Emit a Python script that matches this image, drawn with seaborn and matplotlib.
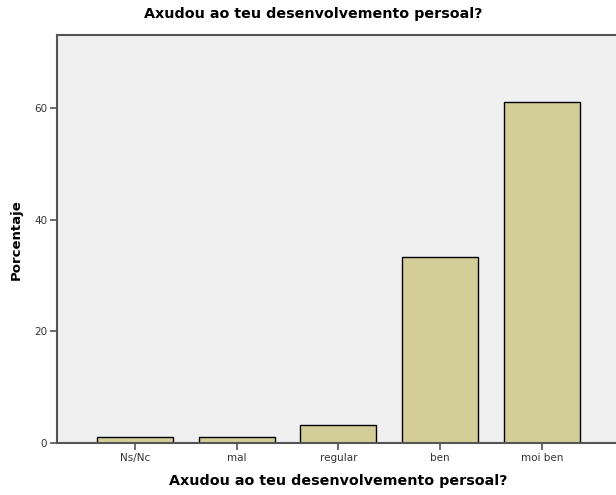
import pandas as pd
import matplotlib
matplotlib.use('Agg')
import matplotlib.pyplot as plt
import seaborn as sns

# Percentages (n = 90)
categorias = ['Ns/Nc', 'mal', 'regular', 'ben', 'moi ben']
porcentaje = [1.11, 1.11, 3.33, 33.33, 61.11]
y_ticks = [0, 20, 40, 60]

df = pd.DataFrame({'cat': categorias, 'pct': porcentaje})

sns.set_style('white')
plt.rcParams['font.family'] = ['DejaVu Sans']

fig = plt.figure(figsize=(6.16, 4.95), dpi=100)
ax = fig.add_axes([0.0925, 0.1044, 0.9135, 0.8249])
ax.set_facecolor('#F0F0F0')

sns.barplot(data=df, x='cat', y='pct', order=categorias, color='#D3CE97',
            edgecolor='black', linewidth=1.0, width=0.75, saturation=1, ax=ax)

ax.set_xlim(-0.767, 4.767)
ax.set_ylim(0, 73)
ax.set_yticks(y_ticks)
ax.set_yticklabels([str(t) for t in y_ticks])

for s in ['left', 'bottom', 'top', 'right']:
    ax.spines[s].set_color('#555555')
    ax.spines[s].set_linewidth(1.5)

ax.tick_params(axis='both', direction='out', length=5, width=1.2, color='#555555',
               labelsize=7.5, labelcolor='#333333', left=True, bottom=True, pad=2)

ax.set_xlabel('Axudou ao teu desenvolvemento persoal?', fontsize=10.3, fontweight='bold',
              labelpad=8, color='black')
ax.set_ylabel('Porcentaje', fontsize=9.5, fontweight='bold', labelpad=8, color='black')
fig.text(0.508, 0.972, 'Axudou ao teu desenvolvemento persoal?', ha='center', va='center',
         fontsize=10.3, fontweight='bold', color='black')

fig.savefig('out.png', dpi=100)
